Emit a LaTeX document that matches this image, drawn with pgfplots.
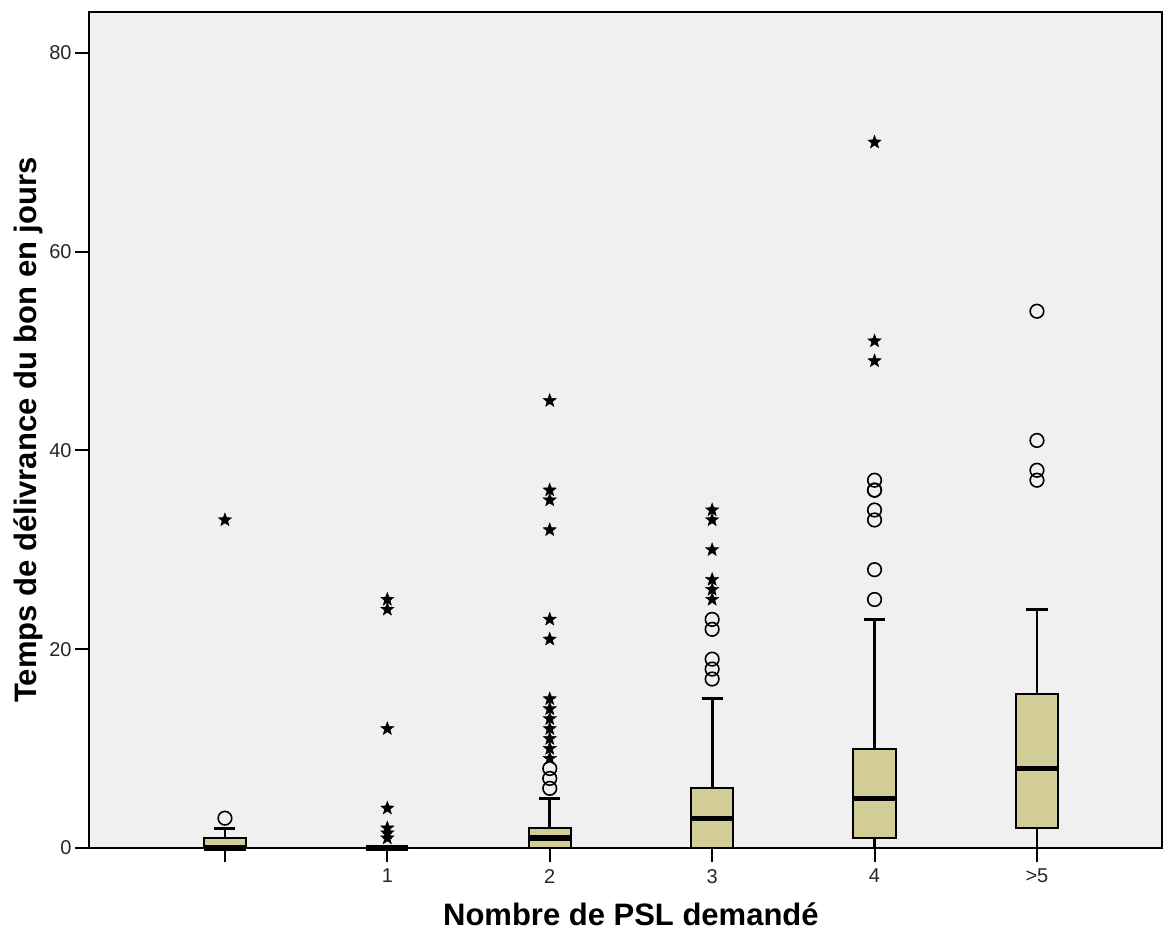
\documentclass[border=0pt]{standalone}
\usepackage{fontspec}
\setmainfont{Liberation Sans}
\usepackage{pgfplots}
\pgfplotsset{compat=1.18}
\usepgfplotslibrary{statistics}
\definecolor{boxfill}{RGB}{210,204,150}
\definecolor{bggray}{RGB}{240,240,240}
\pgfdeclareplotmark{fstar}{%
  \pgfpathmoveto{\pgfpointpolar{90}{\pgfplotmarksize}}%
  \pgfpathlineto{\pgfpointpolar{126}{0.42\pgfplotmarksize}}%
  \pgfpathlineto{\pgfpointpolar{162}{\pgfplotmarksize}}%
  \pgfpathlineto{\pgfpointpolar{198}{0.42\pgfplotmarksize}}%
  \pgfpathlineto{\pgfpointpolar{234}{\pgfplotmarksize}}%
  \pgfpathlineto{\pgfpointpolar{270}{0.42\pgfplotmarksize}}%
  \pgfpathlineto{\pgfpointpolar{306}{\pgfplotmarksize}}%
  \pgfpathlineto{\pgfpointpolar{342}{0.42\pgfplotmarksize}}%
  \pgfpathlineto{\pgfpointpolar{18}{\pgfplotmarksize}}%
  \pgfpathlineto{\pgfpointpolar{54}{0.42\pgfplotmarksize}}%
  \pgfpathclose
  \pgfusepathqfillstroke}
\begin{document}
\begin{tikzpicture}
\useasboundingbox (-44.5pt,-45pt) rectangle (541.5pt,424pt);
\begin{axis}[
  at={(0,0)}, anchor=south west,
  width=536.5pt, height=418pt, scale only axis,
  xmin=-0.837, xmax=5.77, ymin=0, ymax=84.1,
  axis background/.style={fill=bggray},
  axis line style={black, line width=1pt},
  xtick={0,1,2,3,4,5},
  xticklabels={{},1,2,3,4,{>5}},
  ytick={0,20,40,60,80},
  tick pos=left,
  tick align=outside,
  major tick length=7pt,
  tick style={black, line width=1pt},
  /pgf/number format/assume math mode=true,
  ticklabel style={font=\fontsize{10}{12}\selectfont, text=black!85},
  yticklabel style={inner sep=1.5pt},
  xlabel={\textbf{Nombre de PSL demandé}},
  ylabel={\textbf{Temps de délivrance du bon en jours}},
  label style={font=\fontsize{15.5}{18}\selectfont},
  xlabel style={at={(axis description cs:0.5,0)}, anchor=center, yshift=-33pt, xshift=2.7pt},
  ylabel style={at={(axis description cs:0,0.5)}, anchor=center, yshift=30.5pt},
  clip=false,
  boxplot/draw direction=y,
  boxplot/box extend=0.26,
  boxplot/whisker extend=0.13,
  boxplot/every median/.style={line width=2.6pt},
  boxplot/every whisker/.style={line width=1.4pt},
  boxplot/every box/.style={line width=1pt},
]
\addplot[draw=black, fill=boxfill, boxplot prepared={draw position=0, lower whisker=0, lower quartile=0, median=0, upper quartile=1, upper whisker=2}] coordinates {};
\addplot[draw=black, fill=boxfill, boxplot prepared={draw position=1, lower whisker=0, lower quartile=0, median=0, upper quartile=0, upper whisker=0}] coordinates {};
\addplot[draw=black, fill=boxfill, boxplot prepared={draw position=2, lower whisker=0, lower quartile=0, median=1, upper quartile=2, upper whisker=5}] coordinates {};
\addplot[draw=black, fill=boxfill, boxplot prepared={draw position=3, lower whisker=0, lower quartile=0, median=3, upper quartile=6, upper whisker=15}] coordinates {};
\addplot[draw=black, fill=boxfill, boxplot prepared={draw position=4, lower whisker=0, lower quartile=1, median=5, upper quartile=10, upper whisker=23}] coordinates {};
\addplot[draw=black, fill=boxfill, boxplot prepared={draw position=5, lower whisker=0, lower quartile=2, median=8, upper quartile=15.5, upper whisker=24}] coordinates {};
% mild outliers (circles)
\addplot[only marks, mark=o, mark size=3.4pt, black, line width=0.8pt] coordinates {
 (0,3)
 (2,6) (2,7) (2,8)
 (3,17) (3,18) (3,19) (3,22) (3,23)
 (4,25) (4,28) (4,33) (4,34) (4,36) (4,36) (4,37)
 (5,37) (5,38) (5,41) (5,54)
};
% extreme outliers (stars)
\addplot[only marks, mark=fstar, mark size=3.5pt, black, fill=black, line width=0.2pt] coordinates {
 (0,33)
 (1,1) (1,1.5) (1,2) (1,4) (1,12) (1,24) (1,25)
 (2,9) (2,10) (2,11) (2,12) (2,13) (2,14) (2,15) (2,21) (2,23) (2,32) (2,35) (2,36) (2,45)
 (3,25) (3,26) (3,27) (3,30) (3,33) (3,34)
 (4,49) (4,51) (4,71)
};
\end{axis}
\end{tikzpicture}
\end{document}
